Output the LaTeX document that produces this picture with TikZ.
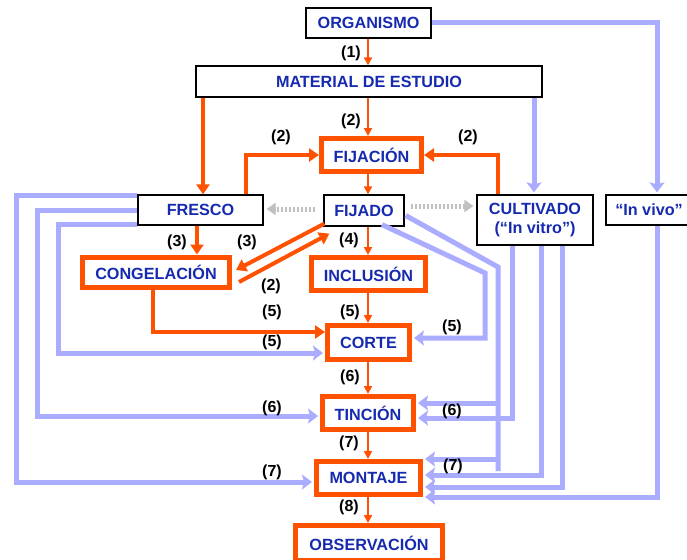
\documentclass[tikz,border=0pt]{standalone}
\usepackage{fontspec}
\setmainfont{Liberation Sans}
\usepackage{tikz}
\usetikzlibrary{arrows.meta}

\definecolor{naranja}{RGB}{255,82,0}
\definecolor{lila}{RGB}{170,172,255}
\definecolor{azul}{RGB}{22,42,175}
\definecolor{gris}{RGB}{192,192,192}

\begin{document}
\begin{tikzpicture}[x=1pt,y=-1pt,
    caja/.style={draw=black, line width=1.3pt, fill=white, inner sep=0pt, align=center,
      text=azul, font=\fontsize{16.2}{19.5}\selectfont\bfseries},
    etapa/.style={caja, draw=naranja, line width=5pt},
    paso/.style={draw=naranja, line width=2pt, -{Triangle[length=8pt,width=8pt]}},
    pasogrueso/.style={draw=naranja, line width=4pt, -{Triangle[length=10pt,width=13pt]}},
    via/.style={draw=lila, line width=5pt, shorten >=2pt, -{Stealth[length=10pt,width=15pt,inset=2pt]}},
    punteado/.style={draw=gris, line width=5pt, dash pattern=on 2.5pt off 1.5pt,
      -{Triangle[length=9pt,width=12pt]}},
    num/.style={text=black, font=\fontsize{16}{19}\selectfont\bfseries}]

        \useasboundingbox[fill=white] (0,0) rectangle (687,559);

        % Boxes
        \node[caja, minimum width=125pt, minimum height=30pt] (organismo) at (368.5,23) {ORGANISMO};
        \node[caja, minimum width=346pt, minimum height=31pt] (material) at (369,81.5) {MATERIAL DE ESTUDIO};
        \node[etapa, minimum width=100pt, minimum height=33pt] (fijacion) at (371.5,155) {FIJACIÓN};
        \node[caja, minimum width=125pt, minimum height=30pt] (fresco) at (200.5,210) {FRESCO};
        \node[caja, minimum width=80pt, minimum height=31pt] (fijado) at (364,210.5) {FIJADO};
        \node[caja, minimum width=116pt, minimum height=50pt] (cultivado) at (535,220) {CULTIVADO\\(“In vitro”)};
        \node[caja, minimum width=86pt, minimum height=30pt] (invivo) at (649,210) {“In vivo”};
        \node[etapa, minimum width=147pt, minimum height=30pt] (congelacion) at (156,272) {CONGELACIÓN};
        \node[etapa, minimum width=114pt, minimum height=33pt] (inclusion) at (368.5,274) {INCLUSIÓN};
        \node[etapa, minimum width=82pt, minimum height=34pt] (corte) at (368.5,342.5) {CORTE};
        \node[etapa, minimum width=91pt, minimum height=33pt] (tincion) at (368,413) {TINCIÓN};
        \node[etapa, minimum width=104pt, minimum height=33pt] (montaje) at (368.5,478) {MONTAJE};
        \node[etapa, minimum width=147pt, minimum height=35pt] (observacion) at (369,543) {OBSERVACIÓN};

        % Orange flow
        \draw[paso] (368,0 |- organismo.south) -- (368,0 |- material.north);
        \draw[pasogrueso] (203,0 |- material.south) -- (203,0 |- fresco.north);
        \draw[paso] (368,0 |- material.south) -- (368,0 |- fijacion.north);
        \draw[pasogrueso] (246,0 |- fresco.north) |- (fijacion.west);
        \draw[pasogrueso] (498,0 |- cultivado.north) |- (fijacion.east);
        \draw[paso] (368,0 |- fijacion.south) -- (368,0 |- fijado.north);
        \draw[pasogrueso] (197,0 |- fresco.south) -- (197,0 |- congelacion.north);
        \draw[pasogrueso] ([shift={(1,-3)}]fijado.south west) -- ([shift={(4,-2)}]congelacion.east);
        \draw[pasogrueso] ([shift={(7,10)}]congelacion.east) -- ([shift={(6,7)}]fijado.south west);
        \draw[paso] (368,0 |- fijado.south) -- (368,0 |- inclusion.north);
        \draw[paso] (368,0 |- inclusion.south) -- (368,0 |- corte.north);
        \draw[pasogrueso] (153,0 |- congelacion.south) |- (corte.west |- 0,332);
        \draw[paso] (368,0 |- corte.south) -- (368,0 |- tincion.north);
        \draw[paso] (368,0 |- tincion.south) -- (368,0 |- montaje.north);
        \draw[paso] (368,0 |- montaje.south) -- (368,0 |- observacion.north);

        % Grey dotted
        \draw[punteado, shorten <=8pt, shorten >=3pt] (fijado.west |- 0,209) -- (fresco.east |- 0,209);
        \draw[punteado, shorten <=6pt, shorten >=3pt] (fijado.east |- 0,206) -- (cultivado.west |- 0,206);

        % Blue paths
        \draw[via] ([shift={(0,1)}]fresco.north west) -| (16,482) -- (montaje.west |- 0,482);
        \draw[via] (fresco.west) -| (37,416) -- (tincion.west |- 0,416);
        \draw[via] ([shift={(0,-1)}]fresco.south west) -| (58,353) -- (corte.west |- 0,353);
        \draw[via] (organismo.east) -| (657,0 |- invivo.north);
        \draw[via] (657,0 |- invivo.south) |- (montaje.east |- 0,497);
        \draw[via] (534,0 |- material.south) -- (534,0 |- cultivado.north);
        \draw[via] (512,0 |- cultivado.south) |- (tincion.east |- 0,418);
        \draw[via] (541,0 |- cultivado.south) |- (montaje.east |- 0,475);
        \draw[via] (562,0 |- cultivado.south) |- (montaje.east |- 0,487);
        \coordinate (rama6) at (498,403);
        \coordinate (rama7) at (498,459);
        \draw[lila, line width=5pt] ([shift={(1,5)}]fijado.east) -- (498,267) -- (498,471);
        \draw[via] (rama6) -- (tincion.east |- rama6);
        \draw[via] (rama7) -- (montaje.east |- rama7);
        \draw[via] ([shift={(18,-2)}]fijado.south) -- (485,273) |- (corte.east |- 0,338);

        % Step numbers
        \node[num] (n1) at (351,53) {(1)};
        \node[num] (n2a) at (351,121) {(2)};
        \node[num] (n2b) at (281,137) {(2)};
        \node[num] (n2c) at (468,137) {(2)};
        \node[num] (n3a) at (177,242) {(3)};
        \node[num] (n3b) at (247,242) {(3)};
        \node[num] (n4) at (349,240) {(4)};
        \node[num] (n2d) at (271,286) {(2)};
        \node[num] (n5a) at (272,312) {(5)};
        \node[num] (n5b) at (350,312) {(5)};
        \node[num] (n5c) at (272,342) {(5)};
        \node[num] (n5d) at (452,327) {(5)};
        \node[num] (n6a) at (350,377) {(6)};
        \node[num] (n6b) at (272,408) {(6)};
        \node[num] (n6c) at (452,411) {(6)};
        \node[num] (n7a) at (349,443) {(7)};
        \node[num] (n7b) at (272,472) {(7)};
        \node[num] (n7c) at (453,466) {(7)};
        \node[num] (n8) at (349,507) {(8)};
\end{tikzpicture}
\end{document}
